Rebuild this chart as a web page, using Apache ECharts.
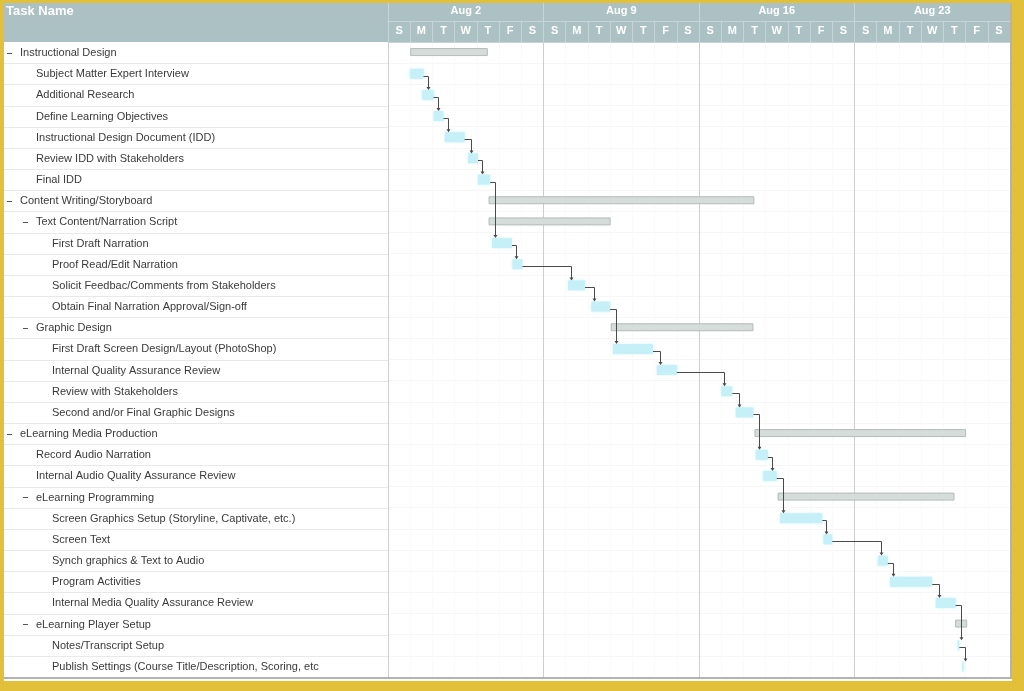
<!DOCTYPE html>
<html>
<head>
<meta charset="utf-8">
<script src="https://cdn.jsdelivr.net/npm/echarts@6/dist/echarts.min.js"></script>
<style>
html,body{margin:0;padding:0;background:#e3c03a;}
#c{width:1024px;height:691px;}
</style>
</head>
<body>
<div id="c"></div>
<script>
// ---- data ----
const taskNames = [
  'Instructional Design',
  'Subject Matter Expert Interview',
  'Additional Research',
  'Define Learning Objectives',
  'Instructional Design Document (IDD)',
  'Review IDD with Stakeholders',
  'Final IDD',
  'Content Writing/Storyboard',
  'Text Content/Narration Script',
  'First Draft Narration',
  'Proof Read/Edit Narration',
  'Solicit Feedbac/Comments from Stakeholders',
  'Obtain Final Narration Approval/Sign-off',
  'Graphic Design',
  'First Draft Screen Design/Layout (PhotoShop)',
  'Internal Quality Assurance Review',
  'Review with Stakeholders',
  'Second and/or Final Graphic Designs',
  'eLearning Media Production',
  'Record Audio Narration',
  'Internal Audio Quality Assurance Review',
  'eLearning Programming',
  'Screen Graphics Setup (Storyline, Captivate, etc.)',
  'Screen Text',
  'Synch graphics & Text to Audio',
  'Program Activities',
  'Internal Media Quality Assurance Review',
  'eLearning Player Setup',
  'Notes/Transcript Setup',
  'Publish Settings (Course Title/Description, Scoring, etc'
];
const taskLevel   = [0,1,1,1,1,1,1,0,1,2,2,2,2,1,2,2,2,2,0,1,1,1,2,2,2,2,2,1,2,2];
const taskSummary = [1,0,0,0,0,0,0,1,1,0,0,0,0,1,0,0,0,0,1,0,0,1,0,0,0,0,0,1,0,0];
// days counted from Sunday Aug 2
const taskStart = [1.02,1.0,1.55,2.05,2.55,3.6,4.05,4.55,4.55,4.68,5.6,8.1,9.15,10.05,10.12,12.1,15.0,15.65,16.52,16.55,16.9,17.56,17.65,19.6,22.05,22.6,24.65,25.55,25.65,25.85];
const taskEnd   = [4.47,1.6,2.05,2.5,3.45,4.05,4.6,16.47,10.0,5.58,6.05,8.87,10.0,16.43,11.93,13.0,15.5,16.45,26.0,17.1,17.5,25.48,19.55,20.0,22.5,24.5,25.55,26.05,25.72,25.92];
const depFrom = [1,2,3,4,5,6,9,10,11,12,14,15,16,17,19,20,22,23,24,25,26,28];
const depTo   = [2,3,4,5,6,9,10,11,12,14,15,16,17,19,20,22,23,24,25,26,28,29];
const dayLabels  = ['S','M','T','W','T','F','S','S','M','T','W','T','F','S','S','M','T','W','T','F','S','S','M','T','W','T','F','S'];
const weekLabels = ['Aug 2','Aug 9','Aug 16','Aug 23'];
const headerTitle = 'Task Name';

// ---- build ----
const rowIds = taskNames.map((_, i) => i);
const barData = rowIds.map(i => [i, taskStart[i], taskEnd[i], taskSummary[i]]);
const labelData = rowIds.map(i => [0, i, taskLevel[i], taskSummary[i]]);
const depData = depFrom.map((f, k) => [taskEnd[f], f, taskStart[depTo[k]], depTo[k]]);

const FONT = "'Liberation Sans', Arial, sans-serif";
const HEADER = '#abc1c4';
const HEADLINE = '#c6d6d8';

const chart = echarts.init(document.getElementById('c'), null, {renderer: 'canvas'});
chart.setOption({
  backgroundColor: '#e3c03a',
  animation: false,
  grid: {left: 388, top: 42, width: 622, height: 635, containLabel: false},
  graphic: [
    {type: 'rect', z: -20, shape: {x: 4, y: 3, width: 1008, height: 678}, style: {fill: '#ffffff'}},
    {type: 'rect', z: -10, shape: {x: 4, y: 3, width: 1006, height: 39}, style: {fill: HEADER}},
    {type: 'text', z: 5, x: 6, y: 11, style: {text: headerTitle, fill: '#ffffff', font: 'bold 13px ' + FONT, verticalAlign: 'middle'}},
    {type: 'line', z: 5, shape: {x1: 1011, y1: 3, x2: 1011, y2: 679}, style: {stroke: '#b3b3b3', lineWidth: 2}},
    {type: 'line', z: 5, shape: {x1: 4, y1: 678, x2: 1012, y2: 678}, style: {stroke: '#b3b3b3', lineWidth: 2}}
  ],
  xAxis: [
    {type: 'value', min: 0, max: 28, interval: 1, position: 'bottom',
     axisLine: {show: false}, axisTick: {show: false}, axisLabel: {show: false},
     splitLine: {show: true, lineStyle: {color: '#fafafa'}}},
    {type: 'value', min: 0, max: 28, interval: 7, position: 'bottom',
     axisLine: {show: false}, axisTick: {show: false}, axisLabel: {show: false},
     splitLine: {show: true, lineStyle: {color: '#cbcfcf'}}},
    {type: 'category', data: dayLabels, position: 'top', offset: 0,
     axisLine: {show: true, lineStyle: {color: HEADLINE}},
     axisTick: {show: true, length: 21, interval: 0, lineStyle: {color: HEADLINE}},
     axisLabel: {interval: 0, color: '#ffffff', fontWeight: 'bold', fontSize: 11, fontFamily: FONT, margin: 11, verticalAlign: 'middle'},
     splitLine: {show: false}},
    {type: 'category', data: weekLabels, position: 'top', offset: 21,
     axisLine: {show: true, lineStyle: {color: HEADLINE}},
     axisTick: {show: true, length: 18, interval: 0, lineStyle: {color: HEADLINE}},
     axisLabel: {interval: 0, color: '#ffffff', fontWeight: 'bold', fontSize: 11, fontFamily: FONT, margin: 10, verticalAlign: 'middle'},
     splitLine: {show: false}}
  ],
  yAxis: {
    type: 'category', data: rowIds, inverse: true,
    axisLine: {show: false}, axisTick: {show: false}, axisLabel: {show: false},
    splitLine: {show: true, lineStyle: {color: '#f6f6f6'}}
  },
  series: [
    {
      type: 'custom', name: 'labels', xAxisIndex: 0, yAxisIndex: 0, clip: false, z: 3,
      data: labelData,
      renderItem: function (params, api) {
        const i = api.value(1), lvl = api.value(2), summ = api.value(3);
        const p = api.coord([0, i]);
        const rowH = api.size([0, 1])[1];
        const tx = 20 + 16 * lvl;
        const children = [
          {type: 'text', style: {text: taskNames[i], x: tx, y: p[1] + 0.5, fill: '#3a3a3a', font: '11px ' + FONT, verticalAlign: 'middle'}},
          {type: 'line', shape: {x1: 4, y1: Math.round(p[1] + rowH / 2) + 0.5, x2: 388, y2: Math.round(p[1] + rowH / 2) + 0.5}, style: {stroke: '#e9e9e9', lineWidth: 1}}
        ];
        if (summ) {
          children.push({type: 'line', shape: {x1: tx - 13, y1: Math.round(p[1]) + 0.5, x2: tx - 8, y2: Math.round(p[1]) + 0.5}, style: {stroke: '#555555', lineWidth: 1}});
        }
        return {type: 'group', children: children};
      }
    },
    {
      type: 'custom', name: 'bars', xAxisIndex: 0, yAxisIndex: 0, z: 4,
      data: barData,
      renderItem: function (params, api) {
        const i = api.value(0), s = api.value(1), e = api.value(2), summ = api.value(3);
        const a = api.coord([s, i]);
        const b = api.coord([e, i]);
        if (summ) {
          const h = 7;
          return {type: 'rect', shape: {x: a[0], y: a[1] - 4, width: b[0] - a[0], height: h},
                  style: {fill: '#d5dcda', stroke: '#b2bcba', lineWidth: 1}};
        }
        const h = 10;
        return {type: 'rect', shape: {x: a[0], y: a[1] - h / 2, width: Math.max(b[0] - a[0], 1), height: h},
                style: {fill: '#c6f0f7', shadowColor: 'rgba(150,230,245,0.6)', shadowBlur: 3}};
      }
    },
    {
      type: 'custom', name: 'links', xAxisIndex: 0, yAxisIndex: 0, z: 5, clip: false,
      data: depData,
      renderItem: function (params, api) {
        const pa = api.coord([api.value(0), api.value(1)]);
        const pb = api.coord([api.value(2), api.value(3)]);
        const vx = Math.round(Math.max(pa[0] + 4, pb[0] + 3)) + 0.5;
        const y0 = Math.round(pa[1] + 2) + 0.5;
        const yTop = pb[1] - 5;
        return {type: 'group', children: [
          {type: 'polyline', shape: {points: [[pa[0], y0], [vx, y0], [vx, yTop - 2]]}, style: {stroke: '#4a4a4a', lineWidth: 1, fill: null}},
          {type: 'polygon', shape: {points: [[vx - 2, yTop - 3], [vx + 2, yTop - 3], [vx, yTop]]}, style: {fill: '#4a4a4a'}}
        ]};
      }
    }
  ]
});
</script>
</body>
</html>
